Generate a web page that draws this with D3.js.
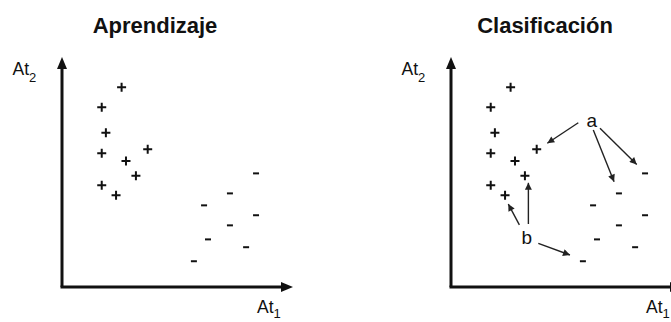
<!DOCTYPE html>
<html><head><meta charset="utf-8">
<script src="https://cdn.jsdelivr.net/npm/d3@7"></script>
<style>html,body{margin:0;padding:0;background:#fff;overflow:hidden}</style>
</head><body>
<script>
// Data (axis units 0..100)
const plusX  = [25.8, 17.2, 19.0, 17.2, 37.1, 27.7, 32.0, 17.2, 23.4];
const plusY  = [86.8, 78.1, 67.1, 58.1, 59.9, 54.8, 48.4, 44.2, 39.9];
const minusX = [84.0, 72.7, 61.5, 84.0, 72.7, 63.2, 79.7, 57.1];
const minusY = [49.4, 40.7, 35.5, 31.2, 26.8, 20.7, 17.3, 11.2];
const panelTitles = ["Aprendizaje", "Clasificación"];
const axisLabelX = ["At", "1"];
const axisLabelY = ["At", "2"];
// annotation labels and arrows (Clasificación panel)
const annLabels = ["a", "b"];
const annLabelX = [60.9, 32.8];
const annLabelY = [72.6, 21.9];
const arrowFrom = ["a", "a", "a", "b", "b", "b"];
const arrowX1 = [55.1, 61.6, 64.5, 29.6, 33.5, 37.8];
const arrowY1 = [71.4, 68.3, 69.0, 27.0, 27.4, 19.0];
const arrowX2 = [41.7, 70.6, 80.4, 24.8, 33.5, 51.5];
const arrowY2 = [62.5, 45.8, 53.3, 36.1, 45.3, 13.9];

const W = 671, H = 322;
const svg = d3.select("body").append("svg").attr("width", W).attr("height", H);
const defs = svg.append("defs");
defs.append("marker").attr("id", "small").attr("viewBox", "0 0 10 10")
  .attr("refX", 10).attr("refY", 5).attr("markerWidth", 8).attr("markerHeight", 7)
  .attr("markerUnits", "userSpaceOnUse").attr("orient", "auto")
  .append("path").attr("d", "M0,0L10,5L0,10z").attr("fill", "#222");

const font = "Arial, 'Liberation Sans', sans-serif";
const offsets = [0, 389];

offsets.forEach((off, pi) => {
  const x0 = 62 + off;
  const x = d3.scaleLinear().domain([0, 100]).range([x0, x0 + 231]);
  const y = d3.scaleLinear().domain([0, 100]).range([287, 57]);
  const g = svg.append("g");

  // title
  g.append("text").attr("x", 155 + off + (pi ? 1 : 0)).attr("y", 33).attr("text-anchor", "middle")
    .attr("font-family", font).attr("font-weight", "bold").attr("font-size", 22)
    .attr("fill", "#111").text(panelTitles[pi]);

  // axes
  const ax = g.append("g").attr("stroke", "#111").attr("stroke-width", 3);
  ax.append("line").attr("x1", x(0)).attr("y1", y(0)).attr("x2", x(0)).attr("y2", y(100) + 8);
  ax.append("line").attr("x1", x(0) - 1.5).attr("y1", y(0)).attr("x2", x(100) - 8).attr("y2", y(0));
  g.append("path").attr("fill", "#111")
    .attr("d", `M${x(0)},${y(100)}L${x(0) - 5},${y(100) + 12}L${x(0) + 5},${y(100) + 12}z`);
  g.append("path").attr("fill", "#111")
    .attr("d", `M${x(100)},${y(0)}L${x(100) - 12},${y(0) - 5}L${x(100) - 12},${y(0) + 5}z`);

  // axis labels
  const ly = g.append("text").attr("x", x0 - 49.5).attr("y", 74.5)
    .attr("font-family", font).attr("font-size", 17.5).attr("fill", "#111");
  ly.append("tspan").text(axisLabelY[0]);
  ly.append("tspan").attr("dy", 7).attr("font-size", 13).text(axisLabelY[1]);
  const lx = g.append("text").attr("x", x0 + 195).attr("y", 313)
    .attr("font-family", font).attr("font-size", 17.5).attr("fill", "#111");
  lx.append("tspan").text(axisLabelX[0]);
  lx.append("tspan").attr("dy", 5).attr("font-size", 13).text(axisLabelX[1]);

  // plus marks
  const pts = plusX.map((v, i) => [x(v), y(plusY[i])]);
  g.append("g").selectAll("path").data(pts).join("path")
    .attr("d", d => `M${d[0] - 4.5},${d[1]}H${d[0] + 4.5}M${d[0]},${d[1] - 4.5}V${d[1] + 4.5}`)
    .attr("stroke", "#111").attr("stroke-width", 2).attr("fill", "none");
  // minus marks
  const mts = minusX.map((v, i) => [x(v), y(minusY[i])]);
  g.append("g").selectAll("path").data(mts).join("path")
    .attr("d", d => `M${d[0] - 3},${d[1]}H${d[0] + 3}`)
    .attr("stroke", "#111").attr("stroke-width", 2).attr("fill", "none");

  if (pi === 1) {
    g.append("g").selectAll("text").data(annLabels).join("text")
      .attr("x", (d, i) => x(annLabelX[i])).attr("y", (d, i) => y(annLabelY[i]) + 7)
      .attr("text-anchor", "middle").attr("font-family", font).attr("font-size", 19)
      .attr("fill", "#111").text(d => d);
    g.append("g").selectAll("line").data(arrowFrom).join("line")
      .attr("x1", (d, i) => x(arrowX1[i])).attr("y1", (d, i) => y(arrowY1[i]))
      .attr("x2", (d, i) => x(arrowX2[i])).attr("y2", (d, i) => y(arrowY2[i]))
      .attr("stroke", "#222").attr("stroke-width", 1.4)
      .attr("marker-end", "url(#small)");
  }
});
</script>
</body></html>
